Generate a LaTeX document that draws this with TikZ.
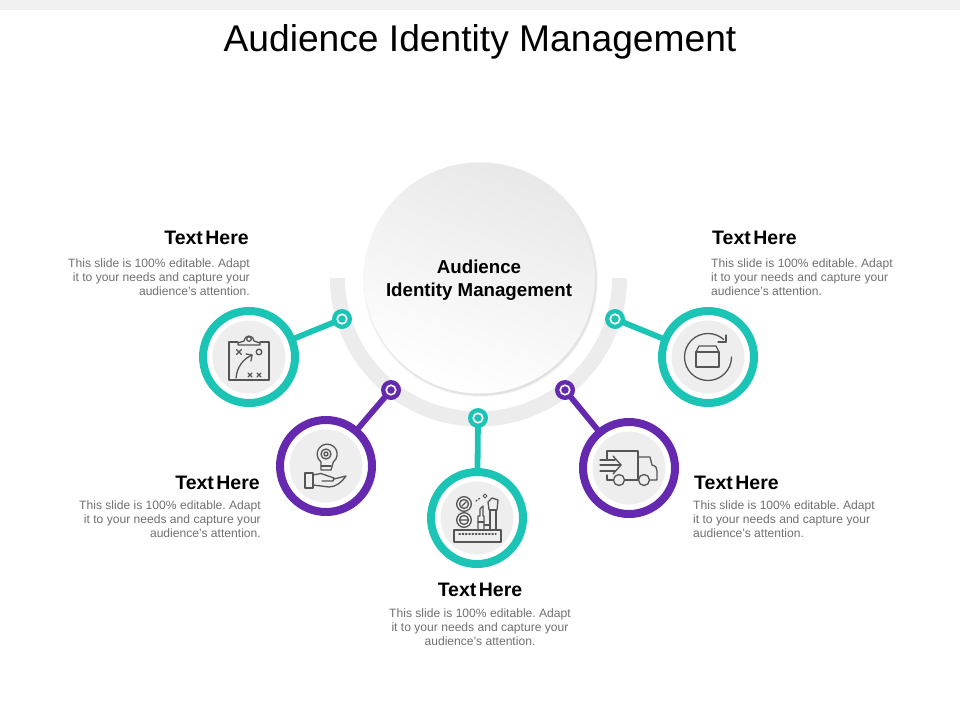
\documentclass[tikz,border=0pt]{standalone}
\usepackage{fontspec}
\setmainfont{Liberation Sans}
\usepackage{tikz}
\usetikzlibrary{shapes,arrows,calc}
\definecolor{tealc}{HTML}{1CC4B6}
\definecolor{purplec}{HTML}{6429AE}
\definecolor{trackc}{HTML}{ECECEC}
\definecolor{discc}{HTML}{EEEEEE}
\definecolor{iconc}{HTML}{555555}
\definecolor{bodyc}{HTML}{6F6F6F}
\newcommand{\headfont}{\fontsize{19.5}{22}\selectfont\bfseries\spaceskip 2.5pt\relax}
\tikzstyle{ring} = [draw, circle, line width=8pt, minimum size=92pt, inner sep=0pt, fill=white]
\tikzstyle{disc} = [circle, fill=discc, minimum size=73pt, inner sep=0pt]
\tikzstyle{dot} = [circle, minimum size=20pt, inner sep=0pt]
\tikzstyle{hole} = [circle, draw=white, line width=1.6pt, minimum size=9.5pt, inner sep=0pt]
\tikzstyle{stem} = [line width=5.8pt, shorten <=-4pt, shorten >=-4pt]
\tikzstyle{icon} = [draw=iconc, line width=1.3pt, line join=round, line cap=round]
\tikzstyle{head} = [font=\headfont, inner sep=0pt]
\tikzstyle{body} = [font=\fontsize{12.1}{14}\selectfont\frenchspacing, text=bodyc, inner sep=0pt]

\begin{document}
\begin{tikzpicture}[x=1pt, y=-1pt]
        \useasboundingbox (0,0) rectangle (960,720);
        \fill[black!6] (0,0) rectangle (960,10);
        \node[font=\fontsize{37.2}{42}\selectfont, inner sep=0pt] (title) at (480,42) {Audience Identity Management};

        % track behind the hub
        \fill[trackc] (330,278) arc[start angle=180, end angle=0, radius=148.5] -- (612,278) arc[start angle=0, end angle=180, radius=133.5] -- cycle;
        \foreach \r/\o in {117.5/.03, 116.5/.04, 116/.05}
            \fill[black, opacity=\o] (480.5,279.5) circle (\r);
        \node[circle, minimum size=231pt, inner sep=0pt, top color=black!9, bottom color=white, shading angle=-20] (hub) at (479.5,278) {};
        \node[font=\fontsize{18.7}{23}\selectfont\bfseries, align=center, inner sep=0pt] (hubtext) at (479,280) {Audience\\Identity Management};

        % dots on the track
        \node[dot, fill=tealc] (dotA) at (342,319) {};
        \node[dot, fill=purplec] (dotB) at (391,390) {};
        \node[dot, fill=tealc] (dotC) at (478,418) {};
        \node[dot, fill=purplec] (dotD) at (565,390) {};
        \node[dot, fill=tealc] (dotE) at (615,319) {};

        % rings
        \node[ring, draw=tealc] (ringA) at (249,357) {};
        \node[ring, draw=purplec] (ringB) at (326,466) {};
        \node[ring, draw=tealc] (ringC) at (477,518) {};
        \node[ring, draw=purplec] (ringD) at (629,468) {};
        \node[ring, draw=tealc] (ringE) at (708,357) {};
        \node[disc] (discA) at (ringA) {};
        \node[disc] (discB) at (ringB) {};
        \node[disc] (discC) at (ringC) {};
        \node[disc] (discD) at (ringD) {};
        \node[disc] (discE) at (ringE) {};

        \draw[stem, tealc] (dotA) -- (ringA);
        \draw[stem, purplec] (dotB) -- (ringB);
        \draw[stem, tealc] (dotC) -- (ringC);
        \draw[stem, purplec] (dotD) -- (ringD);
        \draw[stem, tealc] (dotE) -- (ringE);

        \node[hole, fill=tealc] at (dotA) {};
        \node[hole, fill=purplec] at (dotB) {};
        \node[hole, fill=tealc] at (dotC) {};
        \node[hole, fill=purplec] at (dotD) {};
        \node[hole, fill=tealc] at (dotE) {};

        % clipboard
        \begin{scope}[shift={(ringA)}, icon]
            \draw (-11,-15) -- (-20,-15) -- (-20,23) -- (20,23) -- (20,-15) -- (11,-15);
            \draw (-11,-12) -- (-11,-14) -- (-5,-16) arc[start angle=180, end angle=360, radius=5] -- (11,-14) -- (11,-12) -- cycle;
            \draw (0,-18) circle (2.3);
            \draw (-12.5,-7.5) -- (-7.5,-2.5) (-12.5,-2.5) -- (-7.5,-7.5);
            \draw (10,-5) circle (2.8);
            \draw (-13,21) .. controls (-12,10) and (-6,2) .. (3,-2);
            \draw (-3,-3) -- (3,-2) -- (2,4);
            \draw (-1,16) -- (3,20) (-1,20) -- (3,16);
            \draw (8,16) -- (12,20) (8,20) -- (12,16);
        \end{scope}

        % bulb on a hand
        \begin{scope}[shift={(ringB)}, icon]
            \draw (-5,4) -- (-5,-4) arc[start angle=128, end angle=412, radius=10] -- (5,4) -- cycle;
            \draw (-5,0) -- (5,0);
            \draw (0,-12) circle (2) (0,-12) circle (5);
            \draw (-21,7) rectangle (-13,22);
            \draw (-13,9) -- (-5,7.5) -- (8,12) -- (7,15) -- (-4,15);
            \draw (8,13) -- (20,10) .. controls (16,16) and (10,21) .. (3,21) -- (-13,19);
        \end{scope}

        % make-up box
        \begin{scope}[shift={(ringC)}, icon]
            \draw (-23,12) rectangle (24,24);
            \draw[dotted] (-18,16) -- (19,16);
            \draw (-13,-14) circle (7.3) (-13,-14) circle (4.5) (-15,-12) -- (-11,-16);
            \draw (-13,2) circle (7.3) (-13,2) circle (4.5) (-16,2) -- (-10,2);
            \draw (1,12) -- (1,-2) -- (3,-2) -- (3,-9) -- (6,-12) -- (6,-2) -- (7,-2) -- (7,12);
            \draw (1,4) -- (7,4);
            \draw (7,7) -- (13,7);
            \draw (13,12) -- (13,-8) -- (19,-8) -- (19,12);
            \draw (12,-8) -- (11,-16) -- (15,-20) -- (21,-18) -- (20,-8) -- cycle;
            \draw[line width=.8pt] (8,-24) -- (10,-22) -- (8,-20) -- (6,-22) -- cycle;
            \draw[dotted] (-1,-17) -- (3,-20);
        \end{scope}

        % truck
        \begin{scope}[shift={(ringD)}, icon]
            \draw (-22,-9) -- (-22,-17) -- (9,-17) -- (9,12) -- (-4,12);
            \draw (9,-11) -- (21,-11) -- (23,-3) .. controls (27,-2) and (28,0) .. (28,3) -- (28,12) -- (21,12);
            \draw (9,12) -- (9.5,12);
            \draw (-22,7) -- (-22,12) -- (-16,12);
            \draw (-29,-8) -- (-14,-8) (-29,-3) -- (-8,-3) (-29,3) -- (-14,3);
            \draw (-16,-12) -- (-8,-3) -- (-16,6);
            \draw (-10,12) circle (5.5) (15,12) circle (5.5);
        \end{scope}

        % box and rotation arrow
        \begin{scope}[shift={(ringE)}, icon]
            \draw (23.5,0) arc[start angle=0, end angle=312, radius=23.5];
            \draw (10,-15) -- (18,-15) -- (18,-22);
            \draw (-12,-5) rectangle (11,10);
            \draw (-12,-5) -- (-9,-11) -- (8,-11) -- (11,-5);
        \end{scope}

        % labels
        \node[head, anchor=east] (headA) at (249,237.7) {Text Here};
        \node[body, anchor=north east, align=right] (bodyA) at (250,258.5) {This slide is 100\% editable. Adapt\\it to your needs and capture your\\audience's attention.};
        \node[head, anchor=east] (headB) at (260,482.7) {Text Here};
        \node[body, anchor=north east, align=right] (bodyB) at (261,500.5) {This slide is 100\% editable. Adapt\\it to your needs and capture your\\audience's attention.};
        \node[head] (headC) at (480,589.7) {Text Here};
        \node[body, anchor=north, align=center] (bodyC) at (480,608.5) {This slide is 100\% editable. Adapt\\it to your needs and capture your\\audience's attention.};
        \node[head, anchor=west] (headD) at (694,482.7) {Text Here};
        \node[body, anchor=north west, align=left] (bodyD) at (693,500.5) {This slide is 100\% editable. Adapt\\it to your needs and capture your\\audience's attention.};
        \node[head, anchor=west] (headE) at (712,237.7) {Text Here};
        \node[body, anchor=north west, align=left] (bodyE) at (711,258.5) {This slide is 100\% editable. Adapt\\it to your needs and capture your\\audience's attention.};
    \end{tikzpicture}
\end{document}
